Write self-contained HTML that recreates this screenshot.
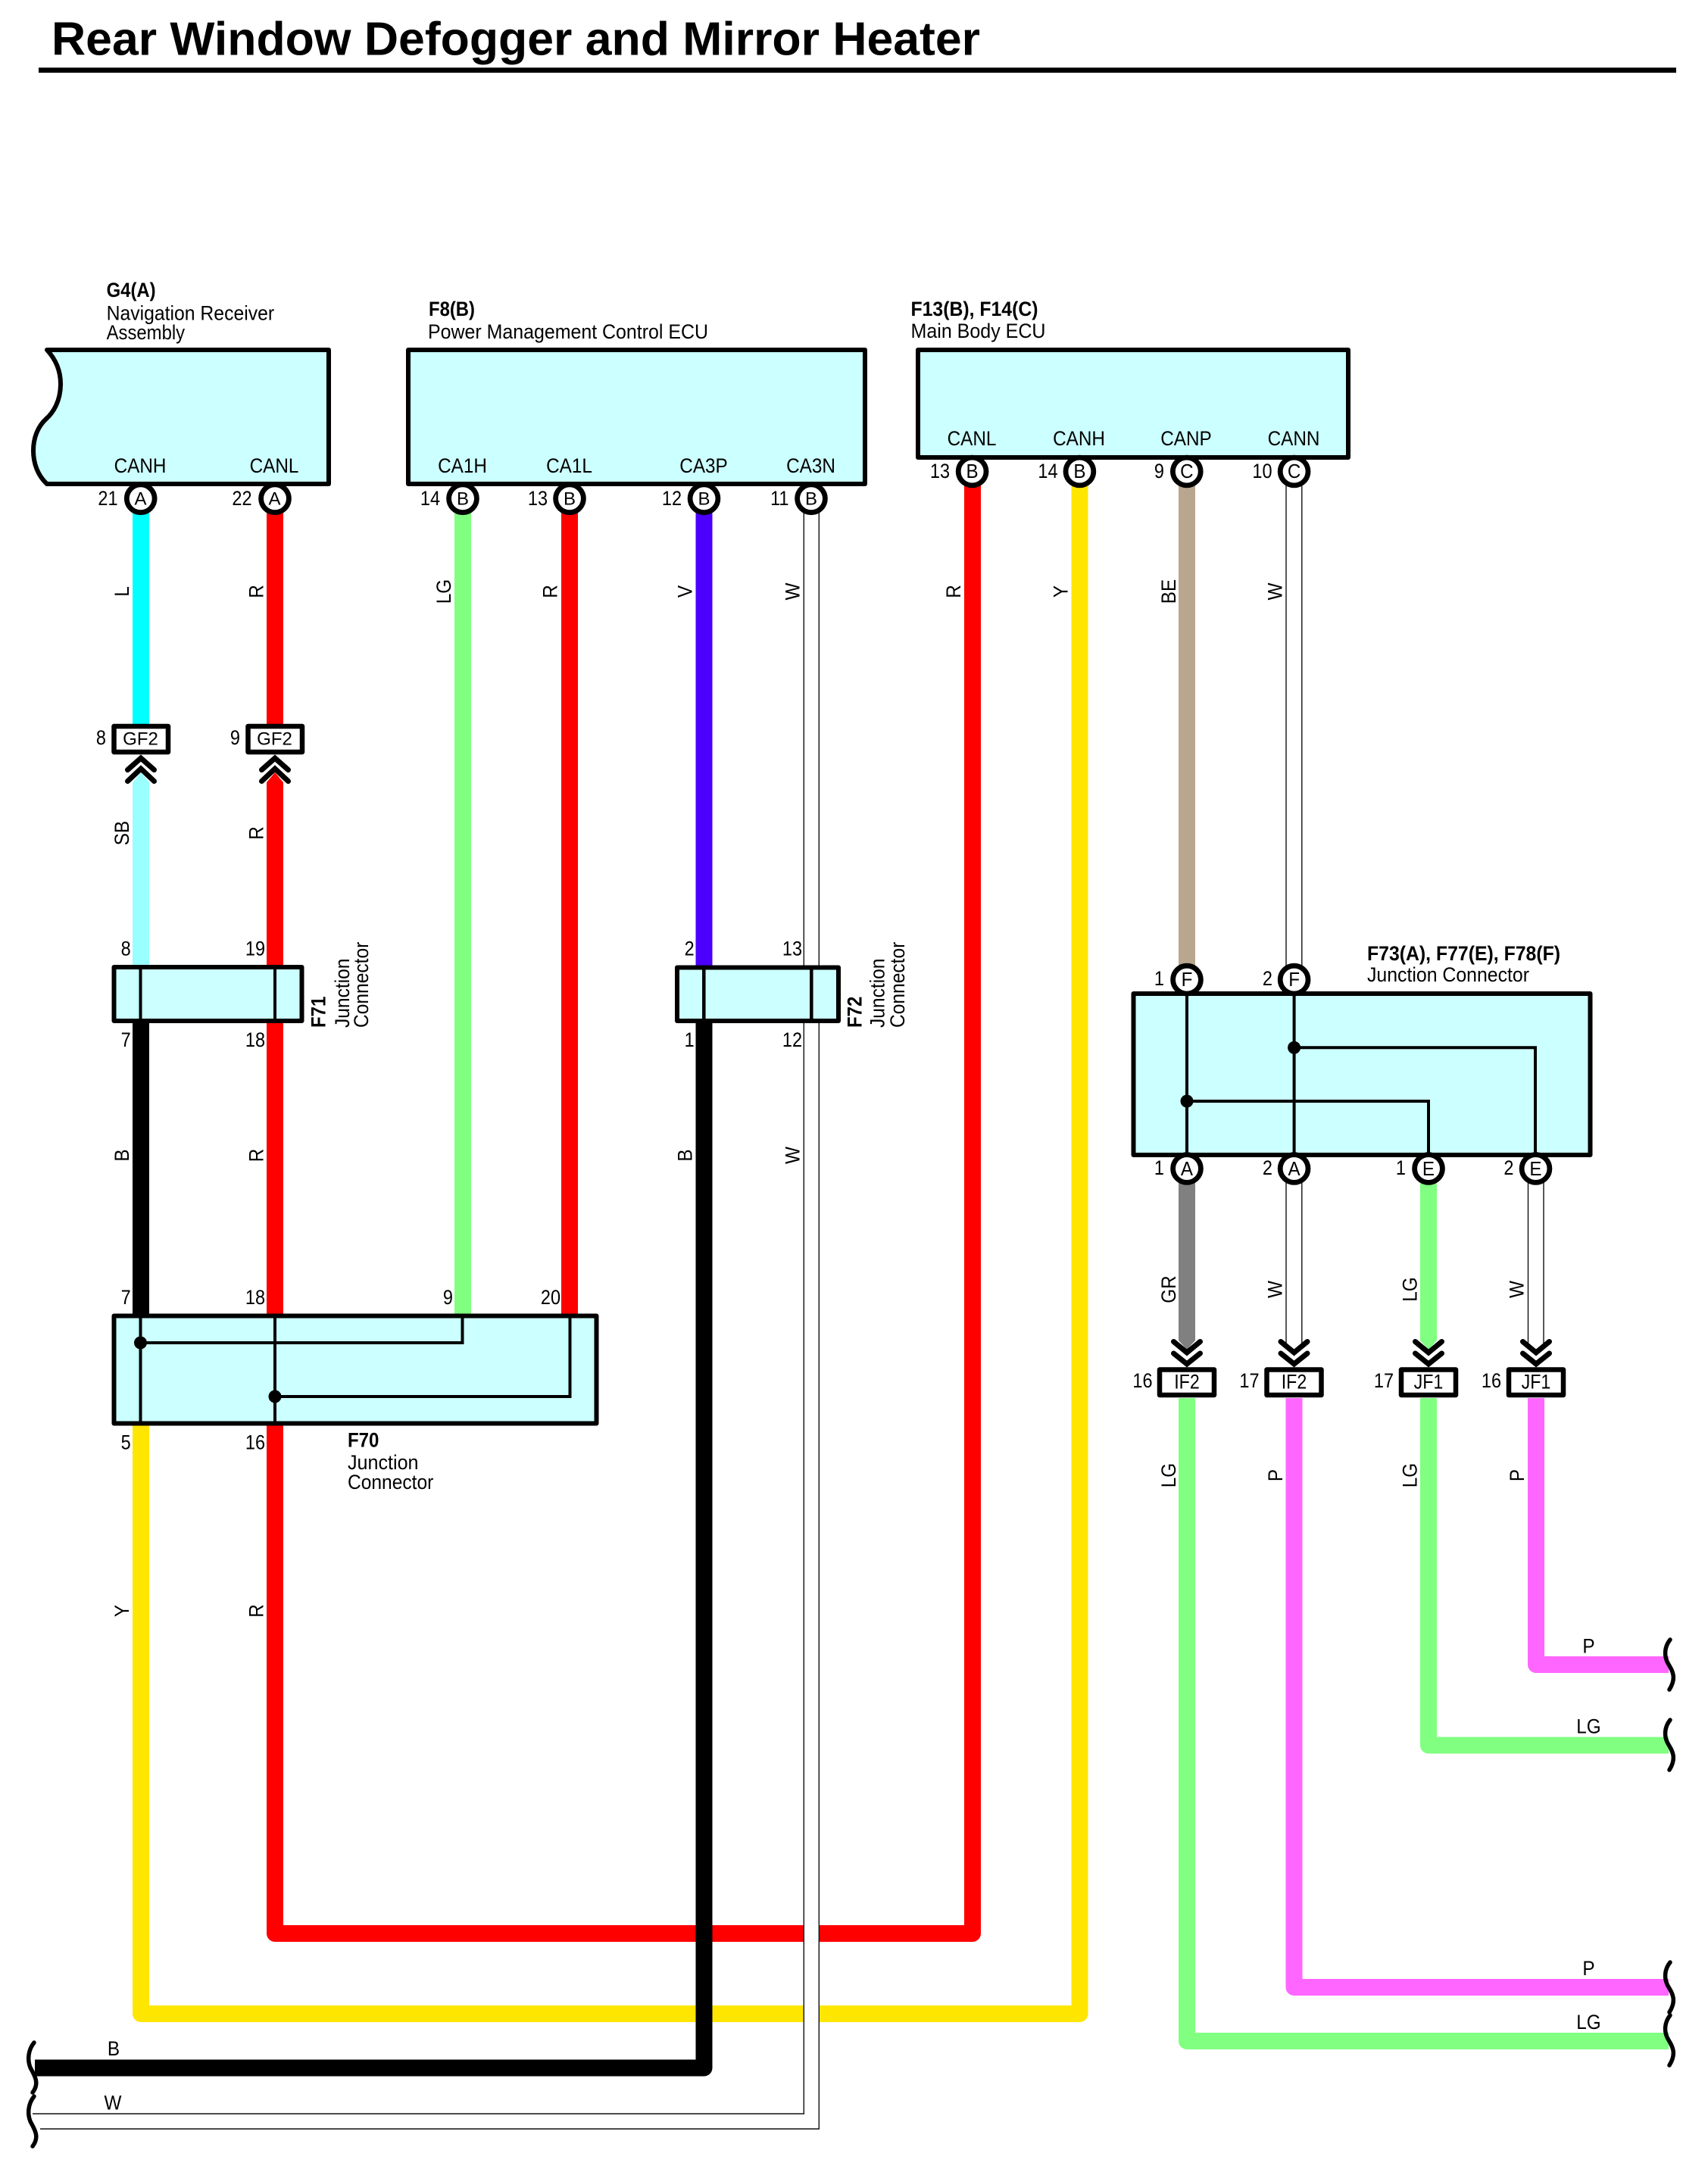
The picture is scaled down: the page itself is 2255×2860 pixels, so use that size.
<!DOCTYPE html>
<html><head><meta charset="utf-8"><style>
html,body{margin:0;padding:0;background:#fff}
svg{display:block}
text{font-family:"Liberation Sans",sans-serif;font-size:27px;fill:#000}
.b{font-weight:bold}
.e{text-anchor:end}
.m{text-anchor:middle}
.s{font-size:24px}
.r{font-size:26px}
.w{fill:none;stroke-width:22;stroke-linejoin:round}
.k{fill:none;stroke:#000;stroke-width:4}
.box{fill:#ccffff;stroke:#000;stroke-width:6;stroke-linejoin:round}
.cb{fill:#fff;stroke:#000;stroke-width:6.5;stroke-linejoin:round}
.pin{fill:#fff;stroke:#000;stroke-width:6.8}
.c{fill:none;stroke:#000;stroke-width:7;stroke-linecap:round;stroke-linejoin:miter}
.tl{fill:none;stroke:#111;stroke-width:1.4}
.br{fill:none;stroke:#000;stroke-width:5.5;stroke-linecap:round}
.wb{fill:#fff;stroke:none}
</style></head><body>
<svg xmlns="http://www.w3.org/2000/svg" width="2255" height="2860" viewBox="0 0 2255 2860">
<rect width="2255" height="2860" fill="#fff"/>
<text class="b" x="68" y="72.5" style="font-size:62px" textLength="1226" lengthAdjust="spacingAndGlyphs">Rear Window Defogger and Mirror Heater</text>
<rect x="51" y="89.3" width="2162" height="6.7" fill="#000"/>

<!-- wires -->
<path class="w" stroke="#00ffff" d="M186 670V957"/>
<path class="w" stroke="#ff0000" d="M363 670V957"/>
<path d="M175 1277V1033L186 1020L197 1033V1277Z" fill="#99ffff"/>
<path d="M352 1277V1033L363 1020L374 1033V1277Z" fill="#ff0000"/>
<path class="w" stroke="#000" d="M186 1348V1737"/>
<path class="w" stroke="#ff0000" d="M363 1348V1737"/>
<path class="w" stroke="#80ff80" d="M611 670V1737"/>
<path class="w" stroke="#ff0000" d="M752 670V1737"/>
<path class="w" stroke="#4b00ff" d="M929.5 670V1277"/>
<path class="w" stroke="#ff0000" d="M363 1882V2553H1284V634"/>
<path class="w" stroke="#ffe600" d="M186 1882V2659H1425.5V634"/>
<path class="w" stroke="#000" d="M929.5 1348V2730.5H46"/>
<rect class="wb" x="1062" y="2540" width="19" height="135"/>
<path class="tl" d="M1061.3 670V1277M1081.3 670V1277M1061.3 1348V2791H43M1081.3 1348V2811H53"/>
<path class="w" stroke="#b8a68f" d="M1567 634V1285"/>
<path class="tl" d="M1698 634V1285M1718.8 634V1285"/>
<path d="M1556 1555V1770L1567 1782L1578 1770V1555Z" fill="#808080"/>
<path d="M1875 1555V1770L1886 1782L1897 1770V1555Z" fill="#80ff80"/>
<path class="tl" d="M1698 1555V1775M1718.8 1555V1775M2017.5 1555V1775M2038 1555V1775"/>
<path class="w" stroke="#80ff80" d="M1567 1846V2695H2203"/>
<path class="w" stroke="#ff66ff" d="M1708.5 1846V2624H2203"/>
<path class="w" stroke="#80ff80" d="M1886 1846V2304.5H2203"/>
<path class="w" stroke="#ff66ff" d="M2028 1846V2198H2203"/>

<!-- G4 box -->
<path class="box" d="M62 462H434V639H62C50 628 44 612 44 595C44 578 50 563 61 553C70 545 80 530 80 507C80 490 74 475 62 462Z"/>
<rect class="box" x="539" y="462" width="603" height="177"/>
<rect class="box" x="1212" y="462" width="568" height="142"/>

<!-- F71 F72 F70 F73 -->
<rect class="box" x="150.5" y="1277" width="248" height="71"/>
<path class="k" d="M185.5 1277V1348M363 1277V1348"/>
<rect class="box" x="894" y="1277.5" width="213" height="70.5"/>
<path class="k" style="stroke-width:4.5" d="M929.3 1277V1348M1071.3 1277V1348"/>
<rect class="box" x="150.5" y="1737.5" width="637" height="142"/>
<path class="k" d="M185.5 1737V1880M363 1737V1880M185.5 1773H610.5V1737M363 1844H752.5V1737"/>
<circle cx="185.5" cy="1773" r="8.5"/><circle cx="363" cy="1844" r="8.5"/>
<rect class="box" x="1496.5" y="1312" width="603" height="213"/>
<path class="k" d="M1567 1312V1525M1708.6 1312V1525M1708.6 1383.3H2027V1525M1567 1454H1886V1525"/>
<circle cx="1708.6" cy="1383.3" r="8.5"/><circle cx="1567" cy="1454" r="8.5"/>

<!-- pins -->
<circle class="pin" cx="185.7" cy="658.3" r="18.4"/><circle class="pin" cx="363" cy="658.3" r="18.4"/>
<circle class="pin" cx="611" cy="658.3" r="18.4"/><circle class="pin" cx="752" cy="658.3" r="18.4"/>
<circle class="pin" cx="929.5" cy="658.3" r="18.4"/><circle class="pin" cx="1071" cy="658.3" r="18.4"/>
<circle class="pin" cx="1283.6" cy="622.5" r="18.4"/><circle class="pin" cx="1425.4" cy="622.5" r="18.4"/>
<circle class="pin" cx="1566.8" cy="622.5" r="18.4"/><circle class="pin" cx="1708.6" cy="622.5" r="18.4"/>
<circle class="pin" cx="1567" cy="1293.6" r="18.4"/><circle class="pin" cx="1708.6" cy="1293.6" r="18.4"/>
<circle class="pin" cx="1567" cy="1543" r="18.4"/><circle class="pin" cx="1708.6" cy="1543" r="18.4"/>
<circle class="pin" cx="1886" cy="1543" r="18.4"/><circle class="pin" cx="2027.5" cy="1543" r="18.4"/>
<text class="m s" x="185.5" y="666.5">A</text>
<text class="m s" x="362.5" y="666.5">A</text>
<text class="m s" x="611" y="666.5">B</text>
<text class="m s" x="752" y="666.5">B</text>
<text class="m s" x="929.5" y="666.5">B</text>
<text class="m s" x="1071" y="666.5">B</text>
<text class="m r" transform="translate(1283.6 631) scale(.93 1)">B</text>
<text class="m r" transform="translate(1425.4 631) scale(.93 1)">B</text>
<text class="m r" transform="translate(1566.8 631) scale(.93 1)">C</text>
<text class="m r" transform="translate(1708.6 631) scale(.93 1)">C</text>
<text class="m r" transform="translate(1567 1302) scale(.93 1)">F</text>
<text class="m r" transform="translate(1708.6 1302) scale(.93 1)">F</text>
<text class="m r" transform="translate(1567 1552) scale(.93 1)">A</text>
<text class="m r" transform="translate(1708.6 1552) scale(.93 1)">A</text>
<text class="m r" transform="translate(1886 1552) scale(.93 1)">E</text>
<text class="m r" transform="translate(2027.5 1552) scale(.93 1)">E</text>

<!-- in-line connectors -->
<rect class="cb" x="150.5" y="959" width="71.5" height="34"/>
<rect class="cb" x="327.5" y="959" width="71.5" height="34"/>
<rect class="cb" x="1531" y="1808.5" width="72" height="33.5"/>
<rect class="cb" x="1672.5" y="1808.5" width="72" height="33.5"/>
<rect class="cb" x="1850" y="1808.5" width="72" height="33.5"/>
<rect class="cb" x="1992" y="1808.5" width="72" height="33.5"/>
<path class="c" d="M168.5 1016.5L186 1001L203.5 1016.5M168.5 1031.5L186 1015L203.5 1031.5M345.5 1016.5L363 1001L380.5 1016.5M345.5 1031.5L363 1015L380.5 1031.5"/>
<path class="c" d="M1549.5 1771.5L1567 1786L1584.5 1771.5M1549.5 1787L1567 1801L1584.5 1787M1691 1771.5L1708.5 1786L1726 1771.5M1691 1787L1708.5 1801L1726 1787M1868.5 1771.5L1886 1786L1903.5 1771.5M1868.5 1787L1886 1801L1903.5 1787M2010.5 1771.5L2028 1786L2045.5 1771.5M2010.5 1787L2028 1801L2045.5 1787"/>
<text class="m s" x="185.5" y="983.5">GF2</text>
<text class="m s" x="362.5" y="983.5">GF2</text>
<text class="m" transform="translate(1567 1833.5) scale(.86 1)">IF2</text>
<text class="m" transform="translate(1708.5 1833.5) scale(.86 1)">IF2</text>
<text class="m" transform="translate(1886 1833.5) scale(.86 1)">JF1</text>
<text class="m" transform="translate(2028 1833.5) scale(.86 1)">JF1</text>

<!-- breaks -->
<path class="br" d="M2205 2165C2197 2175 2197 2187 2202 2196C2208 2206 2214 2215 2204 2231"/>
<path class="br" d="M2205 2271C2197 2281 2197 2293 2202 2302C2208 2312 2214 2321 2204 2337"/>
<path class="br" d="M2205 2591C2197 2601 2197 2613 2202 2622C2208 2632 2214 2641 2204 2657"/>
<path class="br" d="M2205 2661C2197 2671 2197 2683 2202 2692C2208 2702 2214 2711 2204 2727"/>
<path class="br" d="M45 2697C37 2707 36 2720 40 2730C45 2740 53 2750 43 2763"/>
<path class="br" d="M45 2768C37 2778 36 2791 40 2801C45 2811 53 2821 43 2834"/>

<!-- headers -->
<text class="b" x="140.6" y="392" textLength="65" lengthAdjust="spacingAndGlyphs">G4(A)</text>
<text x="140.6" y="422.5" textLength="221.5" lengthAdjust="spacingAndGlyphs">Navigation Receiver</text>
<text x="140.6" y="448" textLength="103.5" lengthAdjust="spacingAndGlyphs">Assembly</text>
<text class="b" x="566" y="417" textLength="61" lengthAdjust="spacingAndGlyphs">F8(B)</text>
<text x="565" y="447" textLength="370" lengthAdjust="spacingAndGlyphs">Power Management Control ECU</text>
<text class="b" x="1202.5" y="417" textLength="168" lengthAdjust="spacingAndGlyphs">F13(B), F14(C)</text>
<text x="1202.5" y="446" textLength="178" lengthAdjust="spacingAndGlyphs">Main Body ECU</text>
<text class="b" x="1805" y="1268" textLength="255" lengthAdjust="spacingAndGlyphs">F73(A), F77(E), F78(F)</text>
<text x="1805" y="1296" textLength="214" lengthAdjust="spacingAndGlyphs">Junction Connector</text>
<text class="b" transform="translate(459 1910.6) scale(.89 1)">F70</text>
<text transform="translate(459 1940) scale(.93 1)">Junction</text>
<text transform="translate(459 1966) scale(.91 1)">Connector</text>
<text class="b" transform="translate(429.5 1357) rotate(-90) scale(.89 1)">F71</text>
<text transform="translate(461 1357) rotate(-90) scale(.91 1)">Junction</text>
<text transform="translate(486 1357) rotate(-90) scale(.91 1)">Connector</text>
<text class="b" transform="translate(1137.6 1357) rotate(-90) scale(.89 1)">F72</text>
<text transform="translate(1167.5 1357) rotate(-90) scale(.91 1)">Junction</text>
<text transform="translate(1194 1357) rotate(-90) scale(.91 1)">Connector</text>

<!-- pin names -->
<text class="m" transform="translate(185 624) scale(.9 1)">CANH</text>
<text class="m" transform="translate(362 624) scale(.9 1)">CANL</text>
<text class="m" transform="translate(610.5 624) scale(.9 1)">CA1H</text>
<text class="m" transform="translate(751.5 624) scale(.9 1)">CA1L</text>
<text class="m" transform="translate(929 624) scale(.9 1)">CA3P</text>
<text class="m" transform="translate(1070.5 624) scale(.9 1)">CA3N</text>
<text class="m" transform="translate(1283 588) scale(.9 1)">CANL</text>
<text class="m" transform="translate(1424.5 588) scale(.9 1)">CANH</text>
<text class="m" transform="translate(1566 588) scale(.9 1)">CANP</text>
<text class="m" transform="translate(1708 588) scale(.9 1)">CANN</text>

<!-- pin numbers -->
<text class="e" transform="translate(155.5 667) scale(.87 1)">21</text>
<text class="e" transform="translate(332.5 667) scale(.87 1)">22</text>
<text class="e" transform="translate(581 667) scale(.87 1)">14</text>
<text class="e" transform="translate(723 667) scale(.87 1)">13</text>
<text class="e" transform="translate(900 667) scale(.87 1)">12</text>
<text class="e" transform="translate(1041.5 667) scale(.87 1)">11</text>
<text class="e" transform="translate(1254 631) scale(.87 1)">13</text>
<text class="e" transform="translate(1396.5 631) scale(.87 1)">14</text>
<text class="e" transform="translate(1537 631) scale(.87 1)">9</text>
<text class="e" transform="translate(1679.5 631) scale(.87 1)">10</text>
<text class="e" transform="translate(140 983) scale(.87 1)">8</text>
<text class="e" transform="translate(317 983) scale(.87 1)">9</text>
<text class="e" transform="translate(172.7 1261.5) scale(.87 1)">8</text>
<text class="e" transform="translate(350 1261.5) scale(.87 1)">19</text>
<text class="e" transform="translate(172.7 1382) scale(.87 1)">7</text>
<text class="e" transform="translate(350 1382) scale(.87 1)">18</text>
<text class="e" transform="translate(916.7 1261.5) scale(.87 1)">2</text>
<text class="e" transform="translate(1059 1261.5) scale(.87 1)">13</text>
<text class="e" transform="translate(916.7 1382) scale(.87 1)">1</text>
<text class="e" transform="translate(1059 1382) scale(.87 1)">12</text>
<text class="e" transform="translate(172.7 1722) scale(.87 1)">7</text>
<text class="e" transform="translate(350 1722) scale(.87 1)">18</text>
<text class="e" transform="translate(598 1722) scale(.87 1)">9</text>
<text class="e" transform="translate(740 1722) scale(.87 1)">20</text>
<text class="e" transform="translate(172.7 1913.5) scale(.87 1)">5</text>
<text class="e" transform="translate(350 1913.5) scale(.87 1)">16</text>
<text class="e" transform="translate(1537 1301) scale(.87 1)">1</text>
<text class="e" transform="translate(1680 1301) scale(.87 1)">2</text>
<text class="e" transform="translate(1537 1551) scale(.87 1)">1</text>
<text class="e" transform="translate(1680 1551) scale(.87 1)">2</text>
<text class="e" transform="translate(1856 1551) scale(.87 1)">1</text>
<text class="e" transform="translate(1998.5 1551) scale(.87 1)">2</text>
<text class="e" transform="translate(1521.5 1832) scale(.87 1)">16</text>
<text class="e" transform="translate(1662.5 1832) scale(.87 1)">17</text>
<text class="e" transform="translate(1840 1832) scale(.87 1)">17</text>
<text class="e" transform="translate(1982 1832) scale(.87 1)">16</text>

<!-- wire colour labels rotated -->
<text class="m" transform="translate(170 781) rotate(-90) scale(.9 1)">L</text>
<text class="m" transform="translate(347.5 781) rotate(-90) scale(.9 1)">R</text>
<text class="m" transform="translate(595 781) rotate(-90) scale(.9 1)">LG</text>
<text class="m" transform="translate(735.5 781) rotate(-90) scale(.9 1)">R</text>
<text class="m" transform="translate(913.5 781) rotate(-90) scale(.9 1)">V</text>
<text class="m" transform="translate(1055.5 781) rotate(-90) scale(.9 1)">W</text>
<text class="m" transform="translate(1268 781) rotate(-90) scale(.9 1)">R</text>
<text class="m" transform="translate(1409.5 781) rotate(-90) scale(.9 1)">Y</text>
<text class="m" transform="translate(1552 781) rotate(-90) scale(.9 1)">BE</text>
<text class="m" transform="translate(1692.5 781) rotate(-90) scale(.9 1)">W</text>
<text class="m" transform="translate(170 1100) rotate(-90) scale(.9 1)">SB</text>
<text class="m" transform="translate(347.5 1100) rotate(-90) scale(.9 1)">R</text>
<text class="m" transform="translate(170 1525.5) rotate(-90) scale(.9 1)">B</text>
<text class="m" transform="translate(347.5 1525.5) rotate(-90) scale(.9 1)">R</text>
<text class="m" transform="translate(913.5 1525.5) rotate(-90) scale(.9 1)">B</text>
<text class="m" transform="translate(1055.5 1525.5) rotate(-90) scale(.9 1)">W</text>
<text class="m" transform="translate(170 2127) rotate(-90) scale(.9 1)">Y</text>
<text class="m" transform="translate(347.5 2127) rotate(-90) scale(.9 1)">R</text>
<text class="m" transform="translate(1552 1702.5) rotate(-90) scale(.9 1)">GR</text>
<text class="m" transform="translate(1692.5 1702.5) rotate(-90) scale(.9 1)">W</text>
<text class="m" transform="translate(1870.6 1702.5) rotate(-90) scale(.9 1)">LG</text>
<text class="m" transform="translate(2011.6 1702.5) rotate(-90) scale(.9 1)">W</text>
<text class="m" transform="translate(1552 1948) rotate(-90) scale(.9 1)">LG</text>
<text class="m" transform="translate(1693 1948) rotate(-90) scale(.9 1)">P</text>
<text class="m" transform="translate(1870.6 1948) rotate(-90) scale(.9 1)">LG</text>
<text class="m" transform="translate(2012 1948) rotate(-90) scale(.9 1)">P</text>

<!-- horizontal wire labels -->
<text class="m" transform="translate(2097.5 2182.5) scale(.9 1)">P</text>
<text class="m" transform="translate(2097.5 2288.5) scale(.9 1)">LG</text>
<text class="m" transform="translate(2097.5 2608) scale(.9 1)">P</text>
<text class="m" transform="translate(2097.5 2679) scale(.9 1)">LG</text>
<text class="m" transform="translate(150 2714) scale(.9 1)">B</text>
<text class="m" transform="translate(149 2785.5) scale(.9 1)">W</text>
</svg>
</body></html>
